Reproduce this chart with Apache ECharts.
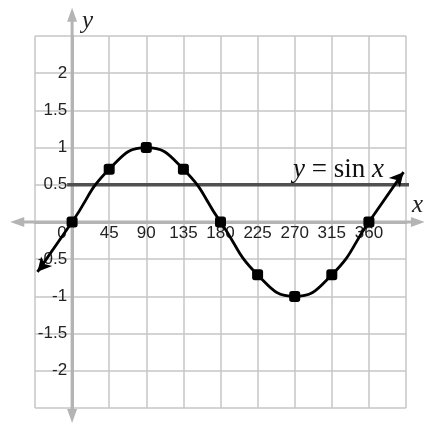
<!DOCTYPE html>
<html>
<head>
<meta charset="utf-8">
<script src="https://cdn.jsdelivr.net/npm/echarts@6/dist/echarts.min.js"></script>
<style>
html, body { margin: 0; padding: 0; background: #fff; }
#main { width: 424px; height: 428px; }
</style>
</head>
<body>
<div id="main"></div>
<script>
// x in degrees, y = sin x
const curveX = [-42, 0, 45, 90, 135, 180, 225, 270, 315, 360, 402];
const curveY = [-0.67, 0, 0.71, 1, 0.71, 0, -0.71, -1, -0.71, 0, 0.67];
const refLineX = [-6, 415];
const refLineY = [0.5, 0.5];
const xTicks = { min: -45, max: 405, interval: 45 };
const yTicks = { min: -2.5, max: 2.5, interval: 0.5 };
// where the drawn axes stop, beyond the grid
const xAxisExtent = [-75, 428];
const yAxisExtent = [-2.7, 2.88];

const chart = echarts.init(document.getElementById("main"), null, { renderer: "canvas" });

const gridColor = "#c6c6c6";
const axisColor = "#b4b4b4";
const labelFont = { fontFamily: "Liberation Sans, Arial, sans-serif", fontSize: 17, color: "#222" };
const gridBox = { left: 35, right: 18, top: 36, bottom: 20 };

const curveData = curveX.map((x, i) => {
	const item = { value: [x, curveY[i]] };
	if (i === 0) {
		item.symbol = "arrow";
		item.symbolSize = [11, 14];
		item.symbolRotate = 139;
	} else if (i === curveX.length - 1) {
		item.symbol = "arrow";
		item.symbolSize = [11, 14];
		item.symbolRotate = -41;
	} else {
		item.symbol = "roundRect";
		item.symbolSize = 11;
	}
	return item;
});

const option = {
	animation: false,
	grid: { ...gridBox, outerBoundsMode: "none", containLabel: false },
	xAxis: {
		type: "value",
		position: "bottom",
		min: xTicks.min,
		max: xTicks.max,
		interval: xTicks.interval,
		name: "x",
		nameLocation: "end",
		nameGap: 6,
		nameTextStyle: {
			fontFamily: "Liberation Serif, Times New Roman, serif",
			fontStyle: "italic",
			fontSize: 25,
			color: "#222",
			verticalAlign: "bottom",
			padding: [0, 0, 4, 0],
		},
		axisLine: { show: true, onZero: false, lineStyle: { color: axisColor, width: 3 } },
		axisTick: { show: false },
		splitLine: { show: true, lineStyle: { color: gridColor, width: 1.5 } },
		axisLabel: {
			...labelFont,
			margin: 3,
			formatter: (v) => {
				if (v === 0) return "{z|0}";
				if (v === xTicks.min || v === xTicks.max) return "";
				return String(v);
			},
			rich: { z: { ...labelFont, padding: [0, 20, 0, 0] } },
		},
	},
	yAxis: {
		type: "value",
		position: "left",
		min: yTicks.min,
		max: yTicks.max,
		interval: yTicks.interval,
		name: "y",
		nameLocation: "end",
		nameGap: 2,
		nameTextStyle: {
			fontFamily: "Liberation Serif, Times New Roman, serif",
			fontStyle: "italic",
			fontSize: 25,
			color: "#222",
			align: "left",
			padding: [0, 0, 0, 10],
		},
		axisLine: { show: true, onZero: false, lineStyle: { color: axisColor, width: 3 } },
		axisTick: { show: false },
		splitLine: { show: true, lineStyle: { color: gridColor, width: 1.5 } },
		axisLabel: {
			...labelFont,
			margin: 5,
			formatter: (v) => (v === 0 || Math.abs(v) === yTicks.max ? "" : String(v)),
		},
	},
	series: [
		{
			name: "y = 0.5",
			type: "line",
			data: refLineX.map((x, i) => [x, refLineY[i]]),
			showSymbol: false,
			clip: false,
			z: 3,
			lineStyle: { color: "#505050", width: 3.5 },
		},
		{
			name: "y = sin x",
			type: "line",
			smooth: true,
			data: curveData,
			showAllSymbol: true,
			clip: false,
			z: 4,
			itemStyle: { color: "#000" },
			lineStyle: { color: "#000", width: 2.8 },
		},
	],
};

chart.setOption(option);

// move both axes onto the zero lines
const p0 = chart.convertToPixel({ gridIndex: 0 }, [0, 0]);
const gridRect = chart.getModel().getComponent("grid", 0).coordinateSystem.getRect();
chart.setOption({
	xAxis: { offset: p0[1] - (gridRect.y + gridRect.height) },
	yAxis: { offset: gridRect.x - p0[0] },
});

// axis lines running past the grid, with arrow heads
const xl = chart.convertToPixel({ gridIndex: 0 }, [xAxisExtent[0], 0])[0];
const xr = chart.convertToPixel({ gridIndex: 0 }, [xAxisExtent[1], 0])[0];
const yt = chart.convertToPixel({ gridIndex: 0 }, [0, yAxisExtent[1]])[1];
const yb = chart.convertToPixel({ gridIndex: 0 }, [0, yAxisExtent[0]])[1];
const labelPos = chart.convertToPixel({ gridIndex: 0 }, [268, 0.5]);
const al = 14, aw = 5;

chart.setOption({
	graphic: [
		{ type: "line", z: 1, shape: { x1: xl + al - 2, y1: p0[1], x2: xr - al + 2, y2: p0[1] }, style: { stroke: axisColor, lineWidth: 3 } },
		{ type: "line", z: 1, shape: { x1: p0[0], y1: yt + al - 2, x2: p0[0], y2: yb - al + 2 }, style: { stroke: axisColor, lineWidth: 3 } },
		{ type: "polygon", z: 1, shape: { points: [[xl, p0[1]], [xl + al, p0[1] - aw], [xl + al, p0[1] + aw]] }, style: { fill: axisColor } },
		{ type: "polygon", z: 1, shape: { points: [[xr, p0[1]], [xr - al, p0[1] - aw], [xr - al, p0[1] + aw]] }, style: { fill: axisColor } },
		{ type: "polygon", z: 1, shape: { points: [[p0[0], yt], [p0[0] - aw, yt + al], [p0[0] + aw, yt + al]] }, style: { fill: axisColor } },
		{ type: "polygon", z: 1, shape: { points: [[p0[0], yb], [p0[0] - aw, yb - al], [p0[0] + aw, yb - al]] }, style: { fill: axisColor } },
		{
			type: "text",
			z: 5,
			x: labelPos[0],
			y: labelPos[1] - 1,
			style: {
				text: "{i|y} = sin {i|x}",
				fontFamily: "Liberation Serif, Times New Roman, serif",
				fontSize: 27,
				fill: "#111",
				verticalAlign: "bottom",
				rich: {
					i: { fontFamily: "Liberation Serif, Times New Roman, serif", fontStyle: "italic", fontSize: 27, fill: "#111" },
				},
			},
		},
	],
});
</script>
</body>
</html>
